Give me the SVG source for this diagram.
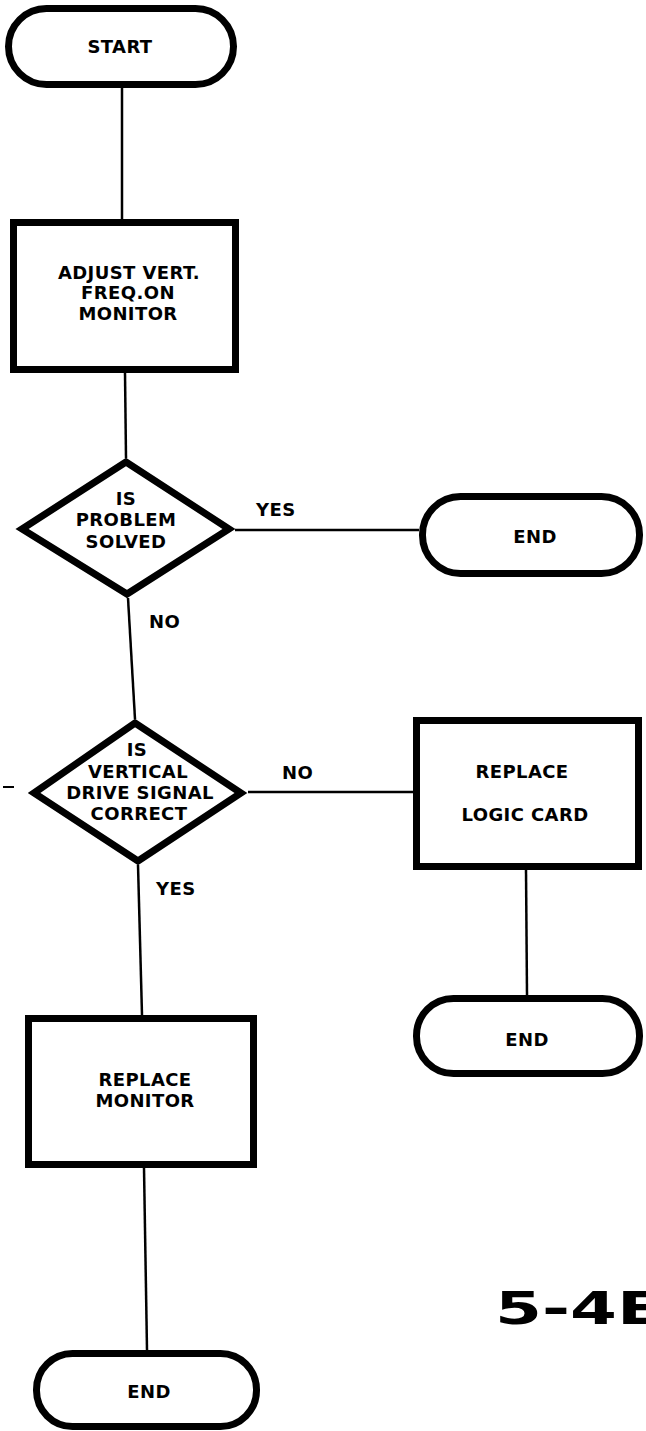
<svg xmlns="http://www.w3.org/2000/svg" width="646" height="1431" viewBox="0 0 646 1431">
<style>
.shape{fill:#fff;stroke:#000;stroke-width:7;stroke-linejoin:miter}
.conn{fill:none;stroke:#000;stroke-width:2.5}
.lbl{font-family:"DejaVu Sans","Liberation Sans",sans-serif;font-weight:bold;font-size:18px;letter-spacing:0.4px;fill:#000}
.mid{text-anchor:middle}
</style>
<rect width="646" height="1431" fill="#fff"/>
<g id="connectors">
<line class="conn" x1="122" y1="88" x2="122" y2="219"/>
<line class="conn" x1="125" y1="373" x2="126" y2="458"/>
<line class="conn" x1="235" y1="530" x2="419" y2="530"/>
<line class="conn" x1="128" y1="598" x2="135" y2="719"/>
<line class="conn" x1="248" y1="792" x2="413" y2="792"/>
<line class="conn" x1="526" y1="870" x2="527" y2="995"/>
<line class="conn" x1="138" y1="865" x2="142" y2="1015"/>
<line class="conn" x1="144" y1="1168" x2="147" y2="1350"/>
<text class="lbl" x="256" y="516">YES</text>
<text class="lbl" x="149" y="628">NO</text>
<text class="lbl" x="282" y="779">NO</text>
<text class="lbl" x="156" y="895">YES</text>
</g>
<g id="start">
<rect class="shape" x="8.5" y="8.5" width="225" height="76" rx="38"/>
<text class="lbl mid" x="120" y="53">START</text>
</g>
<g id="adjust">
<rect class="shape" x="13.5" y="222.5" width="222" height="147"/>
<text class="lbl mid" x="129" y="279">ADJUST VERT.</text>
<text class="lbl mid" x="128" y="299">FREQ.ON</text>
<text class="lbl mid" x="128" y="320">MONITOR</text>
</g>
<g id="decision1">
<polygon class="shape" points="126,462 229,529 127,594 22,529"/>
<text class="lbl mid" x="126" y="505">IS</text>
<text class="lbl mid" x="126" y="526">PROBLEM</text>
<text class="lbl mid" x="126" y="548">SOLVED</text>
</g>
<g id="end1">
<rect class="shape" x="422.5" y="496.5" width="217" height="77" rx="38"/>
<text class="lbl mid" x="535" y="543">END</text>
</g>
<g id="decision2">
<polygon class="shape" points="135,723 241,793 138,861 34,793"/>
<text class="lbl mid" x="137" y="756">IS</text>
<text class="lbl mid" x="138" y="778">VERTICAL</text>
<text class="lbl mid" x="140" y="799">DRIVE SIGNAL</text>
<text class="lbl mid" x="139" y="820">CORRECT</text>
</g>
<g id="logic">
<rect class="shape" x="416.5" y="720.5" width="222" height="146"/>
<text class="lbl mid" x="522" y="778">REPLACE</text>
<text class="lbl mid" x="525" y="821">LOGIC CARD</text>
</g>
<g id="end2">
<rect class="shape" x="416.5" y="998.5" width="223" height="75" rx="37"/>
<text class="lbl mid" x="527" y="1046">END</text>
</g>
<g id="monitor">
<rect class="shape" x="28.5" y="1018.5" width="225" height="146"/>
<text class="lbl mid" x="145" y="1086">REPLACE</text>
<text class="lbl mid" x="145" y="1107">MONITOR</text>
</g>
<g id="end3">
<rect class="shape" x="36.5" y="1353.5" width="220" height="73" rx="36"/>
<text class="lbl mid" x="149" y="1398">END</text>
</g>
<line x1="3" y1="787" x2="14" y2="787" stroke="#000" stroke-width="2"/>
<text x="495" y="1324" font-family="DejaVu Sans, sans-serif" font-weight="bold" font-size="44" textLength="168" lengthAdjust="spacingAndGlyphs">5-4E</text>
</svg>
